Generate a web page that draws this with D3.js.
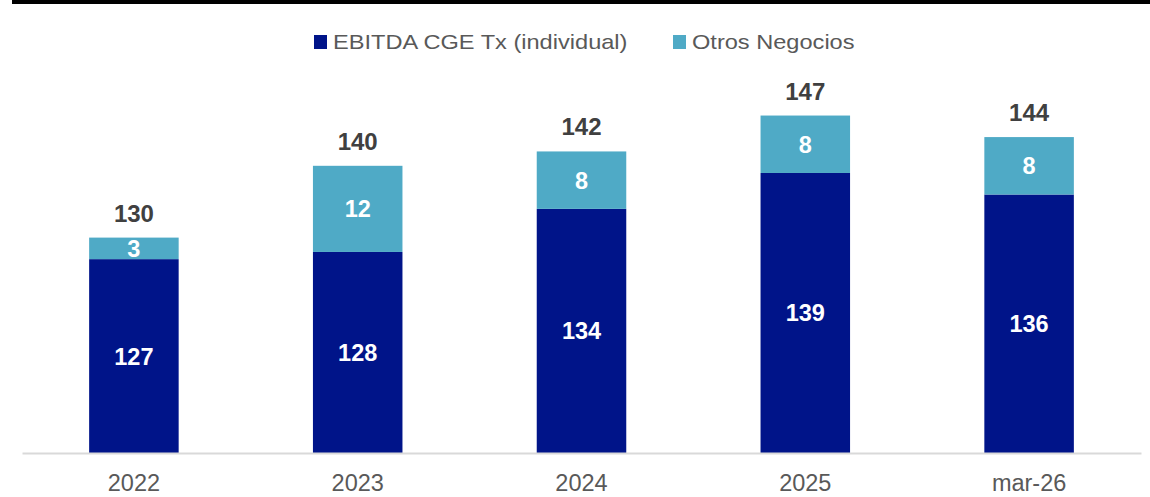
<!DOCTYPE html>
<html lang="es">
<head>
    <meta charset="UTF-8">
    <title>EBITDA CGE Tx</title>
    <style>
        body { margin: 0; background: #fff; }
        text { font-family: "Liberation Sans", Arial, sans-serif; }
    </style>
</head>
<body>
    <svg width="1150" height="497"></svg>
    <script src="https://d3js.org/d3.v7.min.js"></script>
<script>

// Data
const categories = ["2022", "2023", "2024", "2025", "mar-26"];
const ebitdaTx = [127, 128, 134, 139, 136];
const otrosNegocios = [3, 12, 8, 8, 8];
const totals = [130, 140, 142, 147, 144];
const seriesNames = ["EBITDA CGE Tx (individual)", "Otros Negocios"];
const colors = ["#001489", "#4FAAC6"];

const svg = d3.select("svg");
const width = 1150;
const baseY = 453;

// top black band
svg.append("rect")
    .attr("x", 12)
    .attr("y", 0)
    .attr("width", width - 12)
    .attr("height", 4)
    .attr("fill", "#000");

const x = d3.scaleBand()
    .domain(categories)
    .range([22, 1141])
    .paddingInner(0.6)
    .paddingOuter(0.3);

// axis does not start at zero in the original
const y = d3.scaleLinear()
    .domain([100, 160])
    .range([baseY, baseY - 60 * 7.18]);

const rows = categories.map((c, i) => ({
    cat: c,
    a: ebitdaTx[i],
    b: otrosNegocios[i],
    total: totals[i]
}));

const g = svg.append("g");

// dark segment
g.selectAll(".seg-a")
    .data(rows)
    .enter()
    .append("rect")
    .attr("class", "seg-a")
    .attr("x", d => x(d.cat))
    .attr("y", d => y(d.a))
    .attr("width", x.bandwidth())
    .attr("height", d => y(100) - y(d.a))
    .attr("fill", colors[0]);

// light segment
g.selectAll(".seg-b")
    .data(rows)
    .enter()
    .append("rect")
    .attr("class", "seg-b")
    .attr("x", d => x(d.cat))
    .attr("y", d => y(d.a + d.b))
    .attr("width", x.bandwidth())
    .attr("height", d => y(d.a) - y(d.a + d.b))
    .attr("fill", colors[1]);

// labels inside segments
g.selectAll(".lbl-a")
    .data(rows)
    .enter()
    .append("text")
    .attr("x", d => x(d.cat) + x.bandwidth() / 2)
    .attr("y", d => (y(100) + y(d.a)) / 2 + 8.5)
    .attr("text-anchor", "middle")
    .attr("font-size", 23.5)
    .attr("font-weight", "bold")
    .attr("fill", "#fff")
    .text(d => d.a);

g.selectAll(".lbl-b")
    .data(rows)
    .enter()
    .append("text")
    .attr("x", d => x(d.cat) + x.bandwidth() / 2)
    .attr("y", d => (y(d.a) + y(d.a + d.b)) / 2 + 8.5)
    .attr("text-anchor", "middle")
    .attr("font-size", 23.5)
    .attr("font-weight", "bold")
    .attr("fill", "#fff")
    .text(d => d.b);

// totals
g.selectAll(".lbl-t")
    .data(rows)
    .enter()
    .append("text")
    .attr("x", d => x(d.cat) + x.bandwidth() / 2)
    .attr("y", d => y(d.total) - 16)
    .attr("text-anchor", "middle")
    .attr("font-size", 24)
    .attr("font-weight", "bold")
    .attr("fill", "#404040")
    .text(d => d.total);

// x axis
const xAxis = svg.append("g")
    .attr("transform", `translate(0,${baseY})`)
    .call(d3.axisBottom(x).tickSize(0).tickPadding(0));

xAxis.select(".domain")
    .attr("stroke", "#d9d9d9")
    .attr("stroke-width", 2);

xAxis.selectAll("text")
    .attr("y", 38)
    .attr("dy", 0)
    .attr("font-size", 23.5)
    .attr("font-family", "Liberation Sans, Arial, sans-serif")
    .attr("fill", "#595959");

// legend
const legendPos = [314, 673];
seriesNames.forEach((name, i) => {
    const lg = svg.append("g")
        .attr("transform", `translate(${legendPos[i]},0)`);
    lg.append("rect")
        .attr("x", 0)
        .attr("y", 35)
        .attr("width", 13)
        .attr("height", 14)
        .attr("fill", colors[i]);
    lg.append("text")
        .attr("transform", "translate(19,49) scale(1.18,1)")
        .attr("font-size", 20)
        .attr("fill", "#595959")
        .text(name);
});

</script>
</body>
</html>
